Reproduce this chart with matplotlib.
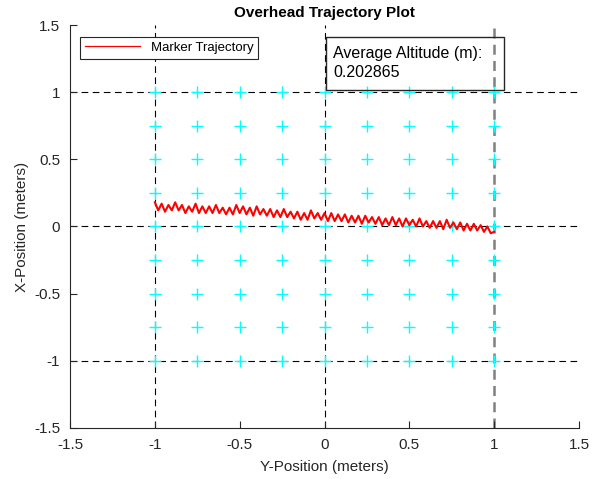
import matplotlib.pyplot as plt
from matplotlib.patches import Rectangle

plt.rcParams['font.family'] = ['Liberation Sans', 'DejaVu Sans']

# marker trajectory (y-position, x-position) in meters
traj_y = [-1.00, -0.98, -0.96, -0.94, -0.92, -0.90, -0.88, -0.86, -0.84, -0.82,
          -0.80, -0.78, -0.76, -0.74, -0.72, -0.70, -0.68, -0.66, -0.64, -0.62,
          -0.60, -0.58, -0.56, -0.54, -0.52, -0.50, -0.48, -0.46, -0.44, -0.42,
          -0.40, -0.38, -0.36, -0.34, -0.32, -0.30, -0.28, -0.26, -0.24, -0.22,
          -0.20, -0.18, -0.16, -0.14, -0.12, -0.10, -0.08, -0.06, -0.04, -0.02,
          0.00, 0.02, 0.04, 0.06, 0.08, 0.10, 0.12, 0.14, 0.16, 0.18,
          0.20, 0.22, 0.24, 0.26, 0.28, 0.30, 0.32, 0.34, 0.36, 0.38,
          0.40, 0.42, 0.44, 0.46, 0.48, 0.50, 0.52, 0.54, 0.56, 0.58,
          0.60, 0.62, 0.64, 0.66, 0.68, 0.70, 0.72, 0.74, 0.76, 0.78,
          0.80, 0.82, 0.84, 0.86, 0.88, 0.90, 0.92, 0.94, 0.96, 0.98, 1.00]
traj_x = [0.18, 0.12, 0.17, 0.11, 0.16, 0.12, 0.18, 0.12, 0.16, 0.10,
          0.15, 0.11, 0.17, 0.10, 0.15, 0.10, 0.15, 0.10, 0.16, 0.10,
          0.14, 0.09, 0.14, 0.09, 0.16, 0.10, 0.15, 0.09, 0.14, 0.08,
          0.15, 0.09, 0.13, 0.08, 0.13, 0.07, 0.12, 0.07, 0.13, 0.07,
          0.11, 0.06, 0.11, 0.05, 0.10, 0.05, 0.12, 0.06, 0.10, 0.05,
          0.10, 0.04, 0.10, 0.04, 0.09, 0.04, 0.09, 0.03, 0.08, 0.03,
          0.08, 0.02, 0.08, 0.03, 0.07, 0.02, 0.07, 0.01, 0.06, 0.01,
          0.07, 0.01, 0.06, 0.00, 0.06, 0.01, 0.05, 0.00, 0.06, 0.00,
          0.04, -0.01, 0.04, -0.01, 0.04, -0.02, 0.05, -0.01, 0.03, -0.02,
          0.03, -0.03, 0.02, -0.03, 0.02, -0.03, 0.01, -0.04, 0.00, -0.05, -0.04]

# target grid positions
grid_pos = [-1, -0.75, -0.5, -0.25, 0, 0.25, 0.5, 0.75, 1]
avg_altitude = 0.202865

ticks = [-1.5, -1, -0.5, 0, 0.5, 1, 1.5]
tick_labels = ['-1.5', '-1', '-0.5', '0', '0.5', '1', '1.5']

fig = plt.figure(figsize=(6, 4.79), dpi=100)
ax = fig.add_axes([0.1167, 0.1065, 0.8483, 0.8413])

for g in grid_pos:
    ax.plot([g] * len(grid_pos), grid_pos, '+', color='cyan',
            markersize=8, markeredgewidth=1, zorder=2)

# reference lines
for v in [-1, 0, 1]:
    ax.axhline(v, color='black', lw=0.8, dashes=(6, 4), zorder=1)
for v in [-1, 0]:
    ax.axvline(v, color='black', lw=0.8, dashes=(6, 4), zorder=1)
ax.axvline(1, color='#808080', lw=1.8, dashes=(4, 2.5), zorder=1)

ax.plot(traj_y, traj_x, color='red', lw=1.5, label='Marker Trajectory', zorder=3)

ax.set_xlim(-1.5, 1.5)
ax.set_ylim(-1.5, 1.5)
ax.set_xticks(ticks)
ax.set_xticklabels(tick_labels)
ax.set_yticks(ticks)
ax.set_yticklabels(tick_labels)
ax.tick_params(direction='in', length=5, width=0.8, labelsize=11,
               colors='#262626', pad=7)
for side in ['top', 'right']:
    ax.spines[side].set_visible(False)
for side in ['left', 'bottom']:
    ax.spines[side].set_color('#262626')

ax.set_xlabel('Y-Position (meters)', fontsize=11, color='#262626', labelpad=6)
ax.set_ylabel('X-Position (meters)', fontsize=11, color='#262626', labelpad=4)
ax.set_title('Overhead Trajectory Plot', fontsize=11, fontweight='bold', pad=6)

leg = ax.legend(loc='upper left', bbox_to_anchor=(0.02, 0.97), fontsize=9.5,
                fancybox=False, framealpha=1, edgecolor='#262626',
                handlelength=4.2, borderpad=0.35, borderaxespad=0)
leg.get_frame().set_linewidth(0.8)
for h in leg.get_lines():
    h.set_linewidth(0.9)

# altitude annotation box (outline only)
ax.add_patch(Rectangle((0.503, 0.839), 0.35, 0.131, transform=ax.transAxes,
                       fill=False, ec='#262626', lw=1, zorder=5))
ax.text(0.517, 0.948, 'Average Altitude (m):\n%g' % avg_altitude,
        transform=ax.transAxes, fontsize=11.5, va='top', ha='left',
        linespacing=1.3, color='black', zorder=6)

fig.savefig('out.png', dpi=100)
